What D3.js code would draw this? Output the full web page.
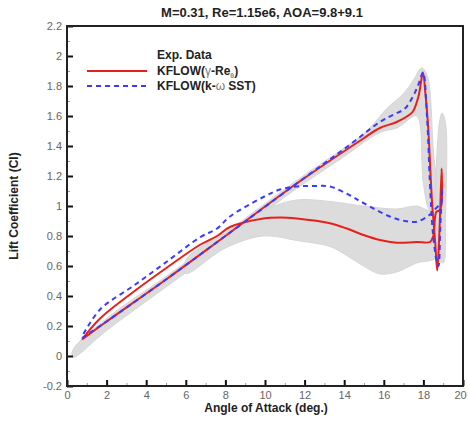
<!DOCTYPE html>
<html>
<head>
<meta charset="utf-8">
<script src="https://cdn.jsdelivr.net/npm/d3@7"></script>
<style>
  body { margin: 0; background: #fff; }
  svg { font-family: "Liberation Sans", Arial, sans-serif; }
</style>
</head>
<body>
<script>
// tick values
var xTicks = [0, 2, 4, 6, 8, 10, 12, 14, 16, 18, 20];
var yTicks = [-0.2, 0, 0.2, 0.4, 0.6, 0.8, 1, 1.2, 1.4, 1.6, 1.8, 2, 2.2];

// KFLOW (gamma-Re_theta), red solid
var gammaAoa = [0.76, 2, 5, 8, 11.6, 14.97, 15.8, 16.65, 17.2, 17.47, 17.75, 17.98,
  18.1, 18.23, 18.43, 18.6, 18.7, 18.8, 18.92, 18.9, 18.8, 18.65, 18.5, 18.33,
  17.66, 16.65, 15.8, 14.97, 14.13, 13.28, 11.6, 10.76, 9.92, 8.23, 7.58, 6.7,
  5.05, 3.38, 1.67, 0.76];
var gammaCl = [0.11, 0.23, 0.51, 0.8, 1.15, 1.45, 1.52, 1.56, 1.6, 1.63, 1.73, 1.89,
  1.75, 1.55, 1.04, 0.75, 0.57, 0.8, 1.25, 1.0, 0.97, 0.96, 0.8, 0.76,
  0.76, 0.755, 0.773, 0.807, 0.85, 0.885, 0.917, 0.924, 0.917, 0.86, 0.8, 0.74,
  0.59, 0.43, 0.25, 0.11];

// KFLOW (k-omega SST), blue dashed
var sstAoa = [0.76, 2, 5, 8, 11.6, 14.3, 15.8, 16.5, 17.07, 17.47, 17.75, 17.98,
  18.18, 18.33, 18.48, 18.69, 18.76, 18.85, 18.94, 18.9, 18.75, 18.6, 18.3,
  17.66, 17.07, 16.3, 14.97, 14.3, 13.28, 12.44, 11.6, 10.76, 9.92, 8.23, 7.58,
  6.7, 5.05, 3.38, 1.67, 0.76];
var sstCl = [0.12, 0.23, 0.51, 0.8, 1.15, 1.41, 1.56, 1.61, 1.65, 1.73, 1.81, 1.89,
  1.6, 1.15, 0.82, 0.62, 0.6, 0.85, 1.12, 1.02, 1.0, 0.98, 0.94,
  0.895, 0.9, 0.93, 1.02, 1.07, 1.13, 1.133, 1.13, 1.11, 1.06, 0.93, 0.85,
  0.79, 0.63, 0.47, 0.31, 0.13];

// experimental data cloud, outlines of the gray bands
var expUpAoa = [0.3, 2, 5, 8, 11.6, 14.97, 15.5, 16.15, 17, 17.5, 17.9, 18.17,
  18.5, 18.67, 18.33, 18.0, 17.66, 17.0, 16.65, 15.8, 14, 11, 8, 5, 2, 0.3];
var expUpCl = [0.04, 0.25, 0.53, 0.82, 1.17, 1.48, 1.55, 1.65, 1.75, 1.84, 1.92, 1.88,
  1.37, 0.97, 0.97, 1.15, 1.6, 1.55, 1.52, 1.49, 1.33, 1.06, 0.75, 0.46, 0.17, -0.01];

var expDownAoa = [6, 8.23, 9.92, 11.6, 13.28, 14.97, 16.65, 17.66, 18.33, 18.7,
  18.67, 17.66, 16.65, 15.8, 14.97, 14.13, 13.28, 11.6, 9.92, 8, 6];
var expDownCl = [0.64, 0.84, 0.97, 1.04, 1.03, 1.0, 0.98, 1.0, 0.97, 1.0,
  0.66, 0.62, 0.56, 0.547, 0.6, 0.67, 0.73, 0.77, 0.8, 0.72, 0.55];

var expStripAoa = [18.75, 18.8, 18.95, 19.12, 19.12, 19.0];
var expStripCl = [0.65, 1.55, 1.62, 1.55, 0.95, 0.62];

var width = 468, height = 429;
var margin = {top: 26, right: 5, bottom: 43, left: 67};
var w = width - margin.left - margin.right,
    h = height - margin.top - margin.bottom;

var x = d3.scaleLinear().domain([0, 20]).range([0, w]);
var y = d3.scaleLinear().domain([-0.2, 2.2]).range([h, 0]);

var svg = d3.select("body").append("svg")
    .attr("width", width)
    .attr("height", height);

var g = svg.append("g")
    .attr("transform", "translate(" + margin.left + "," + margin.top + ")");

function pts(ax, cl) {
  return ax.map(function(a, i) { return [a, cl[i]]; });
}

var line = d3.line()
    .x(function(d) { return x(d[0]); })
    .y(function(d) { return y(d[1]); })
    .curve(d3.curveCatmullRom.alpha(0.5));

var poly = d3.line()
    .x(function(d) { return x(d[0]); })
    .y(function(d) { return y(d[1]); })
    .curve(d3.curveCatmullRomClosed.alpha(0.5));

// gray experimental cloud
[[expUpAoa, expUpCl], [expDownAoa, expDownCl], [expStripAoa, expStripCl]].forEach(function(p) {
  g.append("path")
      .datum(pts(p[0], p[1]))
      .attr("d", poly)
      .style("fill", "#dcdcdc")
      .style("stroke", "#d6d6d6")
      .style("stroke-width", 1);
});

// model curves
g.append("path")
    .datum(pts(gammaAoa, gammaCl))
    .attr("d", line)
    .style("fill", "none")
    .style("stroke", "#e8201c")
    .style("stroke-width", 2);

g.append("path")
    .datum(pts(sstAoa, sstCl))
    .attr("d", line)
    .style("fill", "none")
    .style("stroke", "#3b3bff")
    .style("stroke-width", 2)
    .style("stroke-dasharray", "5,4");

// minor ticks
g.append("g")
    .attr("transform", "translate(0," + h + ")")
    .call(d3.axisBottom(x).tickValues(d3.range(1, 20, 2)).tickSize(-3).tickFormat(""))
    .call(function(s) { s.select(".domain").remove(); s.selectAll("line").attr("stroke", "#999"); });
g.append("g")
    .call(d3.axisLeft(y).tickValues(d3.range(-0.1, 2.2, 0.2)).tickSize(-3).tickFormat(""))
    .call(function(s) { s.select(".domain").remove(); s.selectAll("line").attr("stroke", "#999"); });

// major ticks
var xAxis = g.append("g")
    .attr("transform", "translate(0," + h + ")")
    .call(d3.axisBottom(x).tickValues(xTicks).tickSize(-6).tickPadding(5)
      .tickFormat(function(d) { return d; }));
var yAxis = g.append("g")
    .call(d3.axisLeft(y).tickValues(yTicks).tickSize(-6).tickPadding(5)
      .tickFormat(function(d) { return +d.toFixed(1); }));

[xAxis, yAxis].forEach(function(a) {
  a.select(".domain").remove();
  a.selectAll("line").attr("stroke", "#111").attr("stroke-width", 2);
  a.selectAll("text").style("font-size", "11px").style("fill", "#666");
});
// keep the last x label inside the page
xAxis.selectAll("text").filter(function(d) { return d === 20; }).attr("dx", -3);

// frame
g.append("rect")
    .attr("width", w)
    .attr("height", h)
    .style("fill", "none")
    .style("stroke", "#222")
    .style("stroke-width", 2);

// titles
svg.append("text")
    .attr("x", 262).attr("y", 17)
    .attr("text-anchor", "middle")
    .style("font-size", "13px").style("font-weight", "bold").style("fill", "#222")
    .text("M=0.31, Re=1.15e6, AOA=9.8+9.1");

svg.append("text")
    .attr("x", 266).attr("y", 412)
    .attr("text-anchor", "middle")
    .style("font-size", "12px").style("font-weight", "bold").style("fill", "#222")
    .text("Angle of Attack (deg.)");

svg.append("text")
    .attr("transform", "translate(18," + (margin.top + h / 2) + ") rotate(-90)")
    .attr("text-anchor", "middle")
    .style("font-size", "12px").style("font-weight", "bold").style("fill", "#222")
    .text("Lift Coefficient (Cl)");

// legend
var leg = svg.append("g").style("font-size", "12px").style("font-weight", "bold").style("fill", "#222");
leg.append("text").attr("x", 157).attr("y", 59).text("Exp. Data");

leg.append("line").attr("x1", 87).attr("x2", 147).attr("y1", 71).attr("y2", 71)
    .style("stroke", "#e8201c").style("stroke-width", 2);
var t1 = leg.append("text").attr("x", 157).attr("y", 75);
t1.append("tspan").text("KFLOW(");
t1.append("tspan").style("font-weight", "normal").style("fill", "#777").text("γ");
t1.append("tspan").text("-Re");
t1.append("tspan").attr("dy", 3).style("font-size", "7px").style("fill", "#888").text("θ");
t1.append("tspan").attr("dy", -3).text(")");

leg.append("line").attr("x1", 87).attr("x2", 147).attr("y1", 86).attr("y2", 86)
    .style("stroke", "#3b3bff").style("stroke-width", 2).style("stroke-dasharray", "5,4");
var t2 = leg.append("text").attr("x", 157).attr("y", 90);
t2.append("tspan").text("KFLOW(k-");
t2.append("tspan").style("font-weight", "normal").style("fill", "#777").text("ω");
t2.append("tspan").text(" SST)");
</script>
</body>
</html>
